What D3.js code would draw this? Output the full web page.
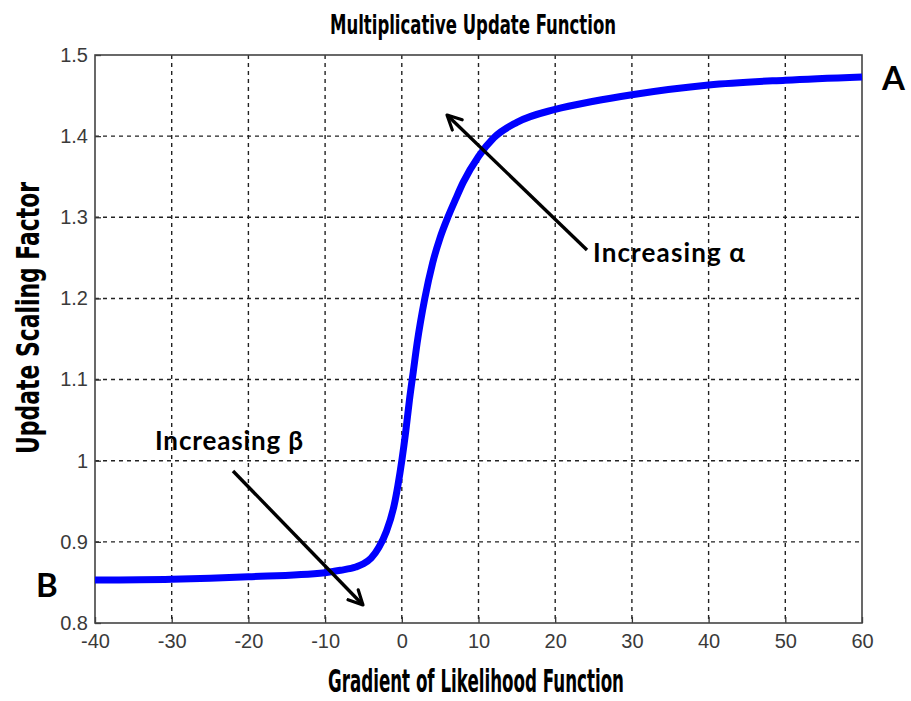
<!DOCTYPE html>
<html lang="en">
<head>
    <title>Multiplicative Update Function</title>
    <meta charset="utf-8"/>
    <script src="https://d3js.org/d3.v7.min.js"></script>
    <style>
        body { margin: 0; background: #fff; }
        .tick text { fill: #3a3a3a; font-size: 20px; font-family: "Liberation Sans", Arial, sans-serif; }
    </style>
</head>
<body>
<div id="viz">
    <svg width="911" height="701"></svg>
</div>

<script type="text/javascript">

    // datos
    const gradient = [-40, -30, -20, -10, -8, -6, -5, -4, -3, -2, -1, -0.5, 0, 0.5, 1, 1.5, 2, 3, 4, 5, 6, 7, 8, 10, 12, 15, 20, 25, 30, 40, 50, 60];
    const factor = [0.853, 0.854, 0.857, 0.862, 0.865, 0.869, 0.873, 0.880, 0.893, 0.913, 0.945, 0.97, 1.0, 1.035, 1.075, 1.11, 1.145, 1.2, 1.243, 1.275, 1.30, 1.322, 1.343, 1.375, 1.398, 1.417, 1.433, 1.443, 1.451, 1.463, 1.469, 1.473];
    const xTicks = [-40, -30, -20, -10, 0, 10, 20, 30, 40, 50, 60];
    const yTicks = [0.8, 0.9, 1.0, 1.1, 1.2, 1.3, 1.4, 1.5];

    const blue = "#0000ff";
    const mLeft = 95, mRight = 862, mTop = 55, mBottom = 623;

    const svg = d3.select("svg");

    let xScale = d3.scaleLinear().domain([-40, 60]).range([mLeft, mRight]);
    let yScale = d3.scaleLinear().domain([0.8, 1.5]).range([mBottom, mTop]);

    // rejilla punteada
    svg.append("g")
        .selectAll("line.vgrid")
        .data(xTicks.slice(1, -1)).enter()
        .append("line")
        .attr("x1", d => xScale(d)).attr("x2", d => xScale(d))
        .attr("y1", mTop).attr("y2", mBottom)
        .attr("stroke", "#222").attr("stroke-width", 1.4)
        .attr("stroke-dasharray", "4,4");

    svg.append("g")
        .selectAll("line.hgrid")
        .data(yTicks.slice(1, -1)).enter()
        .append("line")
        .attr("y1", d => yScale(d)).attr("y2", d => yScale(d))
        .attr("x1", mLeft).attr("x2", mRight)
        .attr("stroke", "#222").attr("stroke-width", 1.4)
        .attr("stroke-dasharray", "4,4");

    // ejes con ticks hacia adentro (guion normal como en el original)
    let xAxis = d3.axisBottom(xScale).tickValues(xTicks).tickSize(-6).tickPadding(11).tickFormat(d => String(d));
    svg.append("g")
        .attr("transform", "translate(0," + mBottom + ")")
        .call(xAxis)
        .call(g => g.select(".domain").remove());

    let yAxis = d3.axisLeft(yScale).tickValues(yTicks).tickSize(-6).tickPadding(7)
        .tickFormat(d => (d === 1 ? "1" : d3.format(".1f")(d)));
    svg.append("g")
        .attr("transform", "translate(" + mLeft + ",0)")
        .call(yAxis)
        .call(g => g.select(".domain").remove());

    svg.selectAll(".tick line").attr("stroke", "#333").attr("stroke-width", 1.3);

    // caja
    svg.append("rect")
        .attr("x", mLeft).attr("y", mTop)
        .attr("width", mRight - mLeft).attr("height", mBottom - mTop)
        .attr("fill", "none").attr("stroke", "#444").attr("stroke-width", 1.6);

    // curva
    let curve = d3.line()
        .x((d, i) => xScale(gradient[i]))
        .y(d => yScale(d))
        .curve(d3.curveMonotoneX);

    svg.append("path")
        .attr("d", curve(factor))
        .attr("fill", "none")
        .attr("stroke", blue)
        .attr("stroke-width", 7);

    // titulos (fuente angosta y alta)
    const condensed = "'DejaVu Sans Condensed', 'Liberation Sans Narrow', sans-serif";
    svg.append("text")
        .attr("x", 473).attr("y", 34)
        .attr("text-anchor", "middle")
        .style("font-family", condensed).style("font-weight", "bold")
        .style("font-size", "27px")
        .attr("textLength", 286).attr("lengthAdjust", "spacingAndGlyphs")
        .text("Multiplicative Update Function");

    svg.append("text")
        .attr("x", 476).attr("y", 692)
        .attr("text-anchor", "middle")
        .style("font-family", condensed).style("font-weight", "bold")
        .style("font-size", "32px")
        .attr("textLength", 296).attr("lengthAdjust", "spacingAndGlyphs")
        .text("Gradient of Likelihood Function");

    svg.append("text")
        .attr("transform", "translate(39,318) rotate(-90)")
        .attr("text-anchor", "middle")
        .style("font-family", condensed).style("font-weight", "bold")
        .style("font-size", "32px")
        .attr("textLength", 272).attr("lengthAdjust", "spacingAndGlyphs")
        .text("Update Scaling Factor");

    // flechas
    svg.append("defs").append("marker")
        .attr("id", "head")
        .attr("viewBox", "0 0 12 12")
        .attr("refX", 10).attr("refY", 6)
        .attr("markerWidth", 19).attr("markerHeight", 19)
        .attr("markerUnits", "userSpaceOnUse")
        .attr("orient", "auto")
        .append("path")
        .attr("d", "M1,1.5 L10,6 L1,10.5")
        .attr("fill", "none").attr("stroke", "#000").attr("stroke-width", 2)
        .attr("stroke-linecap", "round").attr("stroke-linejoin", "round");

    const arrows = [
        {x1: 587, y1: 250, x2: 447, y2: 115},
        {x1: 233, y1: 471, x2: 363, y2: 605}
    ];
    svg.selectAll("line.arrow")
        .data(arrows).enter()
        .append("line")
        .attr("x1", d => d.x1).attr("y1", d => d.y1)
        .attr("x2", d => d.x2).attr("y2", d => d.y2)
        .attr("stroke", "#000").attr("stroke-width", 3.4)
        .attr("marker-end", "url(#head)");

    // anotaciones
    const notes = [
        {x: 593, y: 262, t: "Increasing α", s: 26, w: 152},
        {x: 155, y: 450, t: "Increasing β", s: 26, w: 148},
        {x: 882, y: 90, t: "A", s: 33, w: 0},
        {x: 36, y: 597, t: "B", s: 33, w: 0}
    ];
    svg.selectAll("text.note")
        .data(notes).enter()
        .append("text")
        .attr("x", d => d.x).attr("y", d => d.y)
        .attr("textLength", d => d.w || null)
        .style("font-family", "Lato, 'Open Sans', sans-serif")
        .style("font-weight", "bold")
        .style("font-size", d => d.s + "px")
        .text(d => d.t);

</script>
</body>
</html>
